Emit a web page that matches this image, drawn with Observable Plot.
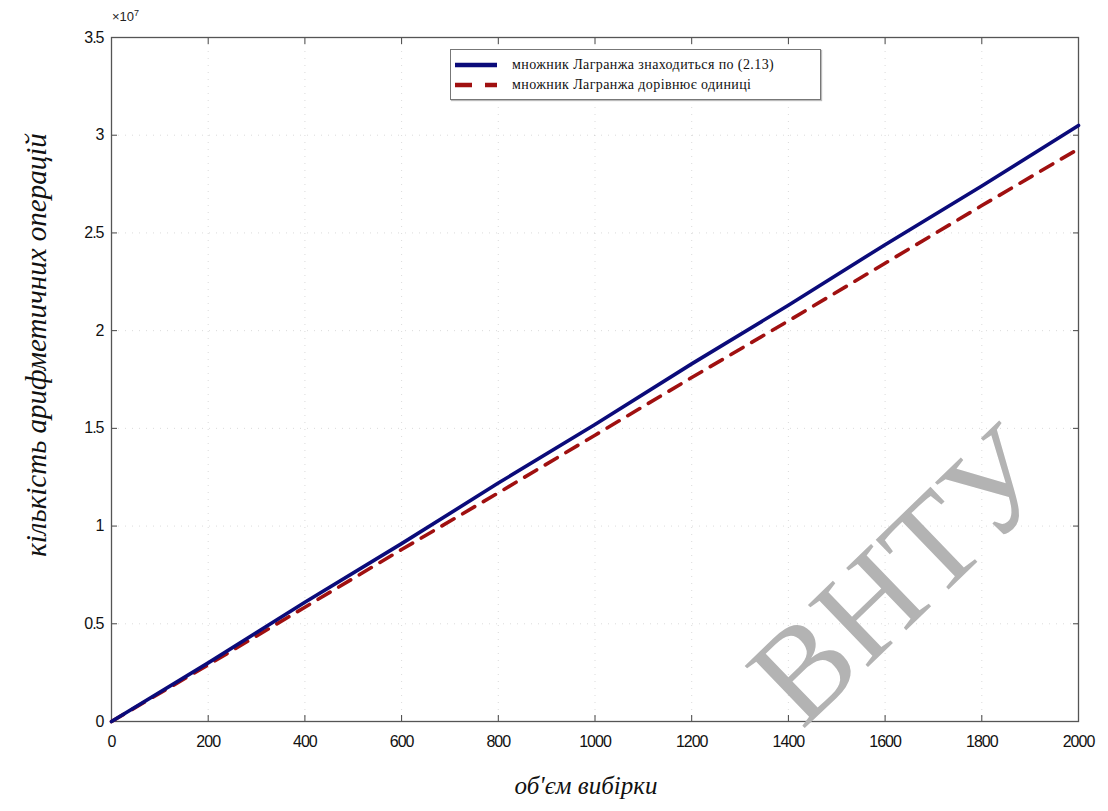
<!DOCTYPE html>
<html>
<head>
<meta charset="utf-8">
<script src="https://cdn.jsdelivr.net/npm/d3@7"></script>
<script src="https://cdn.jsdelivr.net/npm/@observablehq/plot@0.6"></script>
<style>
  html, body { margin: 0; padding: 0; background: #fff; }
  #wrap { position: relative; width: 1108px; height: 811px; overflow: hidden; }
  #legend { position: absolute; left: 450px; top: 49px; width: 369px; height: 49px; border: 1px solid #777; background: #fff; box-shadow: 1px 1px 1px #bbb; font-family: "Liberation Serif", "DejaVu Serif", serif; font-size: 14px; letter-spacing: 0.4px; color: #111; }
  .row { position: absolute; left: 0; height: 18px; display: flex; align-items: center; }
  .row svg { margin-left: 2px; margin-right: 13px; }
  #ylab { position: absolute; left: 36px; top: 345px; transform: translate(-50%, -50%) rotate(-90deg); white-space: nowrap; font-family: "Liberation Serif", serif; font-style: italic; font-size: 29px; color: #111; }
  #xlab { position: absolute; left: 586px; top: 786px; transform: translate(-50%, -50%); white-space: nowrap; font-family: "Liberation Serif", serif; font-style: italic; font-size: 25px; color: #111; }
  #exp { position: absolute; left: 112px; top: 8px; font-family: "Liberation Sans", Arial, sans-serif; font-size: 13px; color: #222; }
  #wm { position: absolute; left: 900px; top: 575px; transform: translate(-50%, -50%) rotate(-44deg); font-family: "Liberation Serif", serif; font-size: 132px; color: #b3b3b3; white-space: nowrap; line-height: 1; }
</style>
</head>
<body>
<div id="wrap"></div>
<script>
// Data (x: sample size, y: number of arithmetic operations)
const sampleSizes = [0, 200, 400, 600, 800, 1000, 1200, 1400, 1600, 1800, 2000];
const opsLagrangeComputed = [0, 0.30e7, 0.61e7, 0.91e7, 1.22e7, 1.52e7, 1.83e7, 2.13e7, 2.44e7, 2.74e7, 3.05e7];
const opsLagrangeOne      = [0, 0.29e7, 0.585e7, 0.88e7, 1.17e7, 1.465e7, 1.76e7, 2.05e7, 2.345e7, 2.64e7, 2.93e7];
const seriesNames = ["множник Лагранжа знаходиться по (2.13)", "множник Лагранжа дорівнює одиниці"];
const xTicks = [0, 200, 400, 600, 800, 1000, 1200, 1400, 1600, 1800, 2000];
const yTicks = [0, 0.5e7, 1e7, 1.5e7, 2e7, 2.5e7, 3e7, 3.5e7];
const xLabel = "об'єм вибірки";
const yLabel = "кількість арифметичних операцій";
const expLabel = "×10";
const watermark = "ВНТУ";

const blue = "#0b0b7a";
const red = "#a01010";

const s1 = sampleSizes.map((x, i) => ({x, y: opsLagrangeComputed[i]}));
const s2 = sampleSizes.map((x, i) => ({x, y: opsLagrangeOne[i]}));

const tickFont = {fontSize: 16, fontFamily: "'Liberation Sans', Arial, sans-serif", fill: "#111"};

const chart = Plot.plot({
  width: 1108,
  height: 811,
  marginLeft: 111,
  marginRight: 30,
  marginTop: 37,
  marginBottom: 90,
  x: {domain: [0, 2000]},
  y: {domain: [0, 3.5e7]},
  style: {background: "transparent", color: "#222"},
  marks: [
    Plot.gridY(yTicks.slice(1, -1), {stroke: "#999", strokeOpacity: 0.35, strokeDasharray: "1,6"}),
    Plot.gridX(xTicks.slice(1, -1), {stroke: "#999", strokeOpacity: 0.35, strokeDasharray: "1,6"}),
    Plot.axisX(xTicks, {anchor: "bottom", tickSize: -6, tickPadding: 20, tickFormat: d3.format("d"), label: null, ...tickFont, stroke: "#444"}),
    Plot.axisX(xTicks, {anchor: "top", tickSize: -6, tickFormat: () => "", label: null, stroke: "#444"}),
    Plot.axisY(yTicks, {anchor: "left", tickSize: -6, tickPadding: 14, tickFormat: d => d3.format("~g")(d / 1e7), label: null, ...tickFont, stroke: "#444"}),
    Plot.axisY(yTicks, {anchor: "right", tickSize: -6, tickFormat: () => "", label: null, stroke: "#444"}),
    Plot.frame({stroke: "#555", strokeWidth: 1.3}),
    Plot.line(s2, {x: "x", y: "y", stroke: red, strokeWidth: 3.6, strokeDasharray: "14,10"}),
    Plot.line(s1, {x: "x", y: "y", stroke: blue, strokeWidth: 3.6})
  ]
});

const wrap = document.getElementById("wrap");
chart.style.position = "absolute";
chart.style.left = "0";
chart.style.top = "0";
wrap.appendChild(chart);
// slightly condensed tick labels like the reference
chart.querySelectorAll("g[aria-label='x-axis tick label'] text, g[aria-label='y-axis tick label'] text").forEach(t => t.setAttribute("letter-spacing", "-1"));

const wm = document.createElement("div");
wm.id = "wm"; wm.textContent = watermark;
wrap.appendChild(wm);

const legend = document.createElement("div");
legend.id = "legend";
[[blue, null], [red, "17,13"]].forEach(([c, dash], i) => {
  const row = document.createElement("div");
  row.className = "row";
  row.style.top = (6 + i * 20) + "px";
  row.innerHTML = `<svg width="46" height="10"><line x1="2" y1="5" x2="44" y2="5" stroke="${c}" stroke-width="4.5" ${dash ? `stroke-dasharray="${dash}"` : ""}/></svg>`;
  const t = document.createElement("span");
  t.textContent = seriesNames[i];
  row.appendChild(t);
  legend.appendChild(row);
});
wrap.appendChild(legend);

const yl = document.createElement("div"); yl.id = "ylab"; yl.textContent = yLabel; wrap.appendChild(yl);
const xl = document.createElement("div"); xl.id = "xlab"; xl.textContent = xLabel; wrap.appendChild(xl);
const ex = document.createElement("div"); ex.id = "exp";
ex.innerHTML = expLabel + "<sup style='font-size:9px'>7</sup>";
wrap.appendChild(ex);
</script>
</body>
</html>
